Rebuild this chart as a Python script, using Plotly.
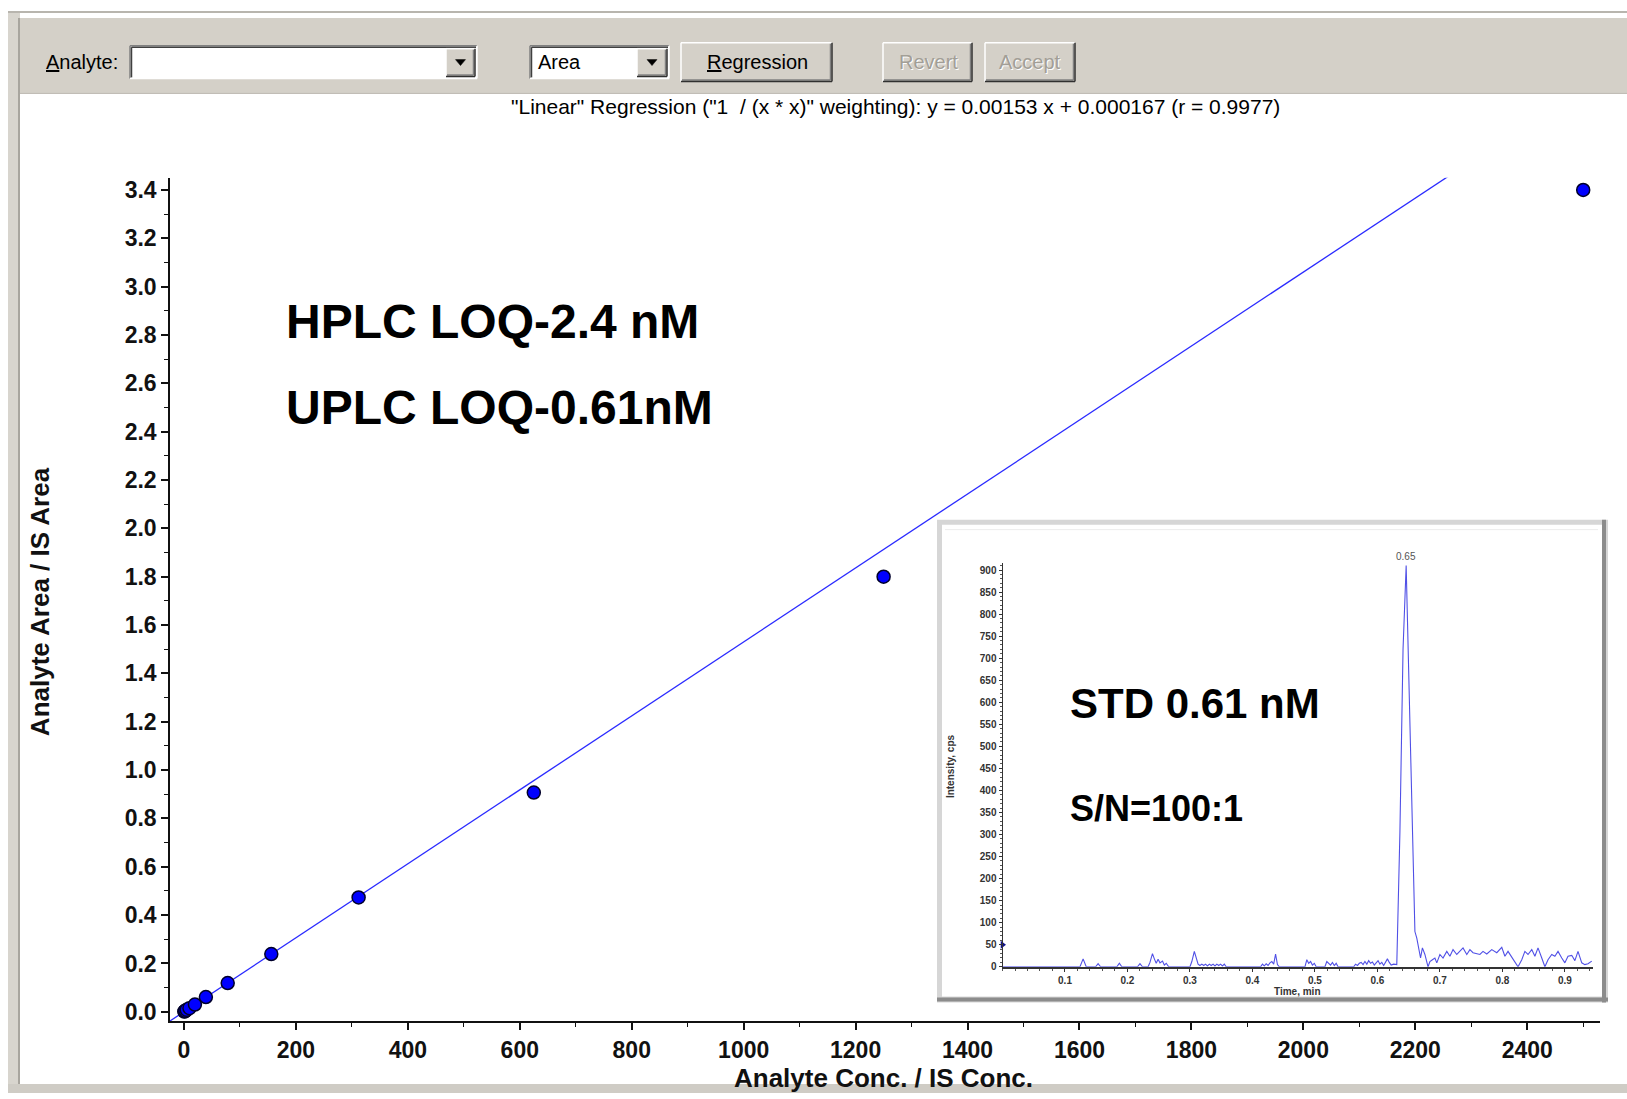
import plotly.graph_objects as go

W, H = 1627, 1099

# Calibration standards (analyte/IS concentration ratio vs analyte/IS area ratio)
conc = [0.61, 1.22, 2.44, 4.88, 9.77, 19.5, 39.1, 78.1, 156, 312, 625, 1250, 2500]
area_ratio = [0.001, 0.002, 0.004, 0.008, 0.015, 0.030, 0.061, 0.119, 0.239, 0.473, 0.907, 1.80, 3.40]

# Weighted linear fit reported by the software
slope, intercept, r_value = 0.00153, 0.000167, 0.9977

x_ticks = [0, 200, 400, 600, 800, 1000, 1200, 1400, 1600, 1800, 2000, 2200, 2400]
y_ticks = [0.0, 0.2, 0.4, 0.6, 0.8, 1.0, 1.2, 1.4, 1.6, 1.8, 2.0, 2.2, 2.4, 2.6, 2.8, 3.0, 3.2, 3.4]
x_range = [-25, 2530]
y_range = [-0.04, 3.45]

# Chromatogram of the 0.61 nM standard
chrom_time = [
    0.000, 0.124, 0.129, 0.134, 0.149, 0.153, 0.157, 0.183, 0.187, 0.191,
    0.216, 0.220, 0.224, 0.233, 0.236, 0.240, 0.243, 0.246, 0.249, 0.252,
    0.256, 0.259, 0.262, 0.266, 0.300, 0.303, 0.307, 0.310, 0.313, 0.316,
    0.319, 0.322, 0.325, 0.328, 0.331, 0.334, 0.337, 0.340, 0.343, 0.346,
    0.349, 0.352, 0.355, 0.358, 0.413, 0.416, 0.419, 0.422, 0.425, 0.428,
    0.431, 0.434, 0.437, 0.440, 0.443, 0.484, 0.487, 0.490, 0.493, 0.496,
    0.499, 0.502, 0.516, 0.519, 0.522, 0.525, 0.528, 0.531, 0.534, 0.537,
    0.562, 0.565, 0.568, 0.571, 0.574, 0.577, 0.580, 0.583, 0.586, 0.589,
    0.592, 0.595, 0.598, 0.601, 0.604, 0.607, 0.610, 0.613, 0.616, 0.619,
    0.622, 0.626, 0.631, 0.636, 0.641, 0.646, 0.649, 0.655, 0.660, 0.663,
    0.666, 0.669, 0.672, 0.676, 0.681, 0.684, 0.688, 0.692, 0.695, 0.700,
    0.705, 0.711, 0.716, 0.721, 0.727, 0.732, 0.737, 0.743, 0.748, 0.753,
    0.759, 0.764, 0.769, 0.775, 0.783, 0.791, 0.799, 0.804, 0.809, 0.817,
    0.825, 0.831, 0.836, 0.841, 0.847, 0.852, 0.857, 0.863, 0.868, 0.873,
    0.879, 0.884, 0.889, 0.895, 0.900, 0.905, 0.911, 0.916, 0.921, 0.927,
    0.932, 0.937, 0.943,
]
chrom_cps = [
    0, 0, 18, 0, 0, 7, 0, 0, 8, 0,
    0, 7, 0, 0, 10, 30, 18, 8, 17, 9,
    13, 4, 8, 0, 0, 12, 35, 18, 6, 3,
    6, 3, 6, 2, 6, 3, 6, 2, 6, 3,
    6, 2, 6, 0, 0, 6, 2, 7, 3, 9,
    12, 6, 29, 5, 0, 0, 16, 8, 12, 4,
    8, 0, 0, 12, 9, 4, 10, 3, 8, 0,
    0, 6, 3, 8, 10, 5, 12, 6, 14, 8,
    11, 4, 9, 14, 6, 10, 3, 12, 18, 10,
    4, 6, 5, 306, 720, 910, 720, 344, 80, 65,
    43, 20, 43, 28, 0, 12, 16, 20, 9, 28,
    20, 35, 24, 39, 28, 35, 43, 28, 39, 32,
    29, 28, 35, 29, 39, 32, 44, 24, 35, 16,
    0, 16, 35, 28, 39, 24, 43, 20, 0, 16,
    28, 24, 35, 20, 9, 24, 26, 14, 35, 9,
    5, 7, 13,
]
inset_y_ticks = [0, 50, 100, 150, 200, 250, 300, 350, 400, 450,
                 500, 550, 600, 650, 700, 750, 800, 850, 900]
inset_x_ticks = [0.1, 0.2, 0.3, 0.4, 0.5, 0.6, 0.7, 0.8, 0.9]
threshold_cps = 50


def X(px):
    return px / W


def Y(py):
    return 1 - py / H


shapes = []


def box(x0, y0, x1, y1, fill, line=None, lw=0):
    shapes.append(dict(type="rect", xref="paper", yref="paper",
                       x0=X(x0), x1=X(x1), y0=Y(y1), y1=Y(y0),
                       fillcolor=fill, layer="below",
                       line=dict(color=line or fill, width=lw)))


def seg(x0, y0, x1, y1, color, lw=1.5):
    shapes.append(dict(type="line", xref="paper", yref="paper",
                       x0=X(x0), x1=X(x1), y0=Y(y0), y1=Y(y1),
                       layer="below", line=dict(color=color, width=lw)))


FACE = "#d4d0c8"


def raised(x0, y0, x1, y1):
    box(x0, y0, x1, y1, FACE)
    seg(x0, y0, x1, y0, "#ffffff")
    seg(x0, y0, x0, y1, "#ffffff")
    seg(x0 + 1, y1 - 1.5, x1 - 1.5, y1 - 1.5, "#808080")
    seg(x1 - 1.5, y0 + 1, x1 - 1.5, y1 - 1.5, "#808080")
    seg(x0, y1, x1, y1, "#303030")
    seg(x1, y0, x1, y1, "#303030")


def sunken(x0, y0, x1, y1, fill="#ffffff"):
    box(x0, y0, x1, y1, fill)
    seg(x0, y0, x1, y0, "#808080")
    seg(x0, y0, x0, y1, "#808080")
    seg(x0 + 1.5, y0 + 1.5, x1 - 1, y0 + 1.5, "#404040")
    seg(x0 + 1.5, y0 + 1.5, x0 + 1.5, y1 - 1, "#404040")
    seg(x0, y1, x1, y1, "#ffffff")
    seg(x1, y0, x1, y1, "#ffffff")


def arrow_button(x0, y0, x1, y1):
    raised(x0, y0, x1, y1)
    cx, cy = (x0 + x1) / 2, (y0 + y1) / 2
    shapes.append(dict(type="path", xref="paper", yref="paper", layer="below",
                       path=f"M {X(cx-5)},{Y(cy-3)} L {X(cx+5)},{Y(cy-3)} L {X(cx)},{Y(cy+3)} Z",
                       fillcolor="#000000", line=dict(color="#000000", width=0.5)))


# window frame and toolbar
box(8, 10, W, H, "#ffffff")
box(8, 10, 20, H, "#d8d5ce")
seg(19, 17, 19, 1090, "#a8a59e", 2)
seg(8, 11, W, 11, "#b8b5ae", 2)
box(20, 17, W, 93, FACE)
seg(20, 93, W, 93, "#bdb9b1", 1)
box(8, 1090, W, H, "#cfccc5")

sunken(130, 45, 477, 78)
arrow_button(446, 48, 475, 76)
sunken(530, 45, 669, 78)
arrow_button(637, 48, 667, 76)
raised(681, 42, 832, 81)
raised(883, 42, 972, 81)
raised(985, 42, 1075, 81)

# inset frame
box(937, 522, 1608, 1008, "#d6d6d6")
box(942, 527, 1602, 1002, "#ffffff")
seg(1604, 522, 1604, 1008, "#8c8c8c", 4)
seg(937, 1005, 1608, 1005, "#8c8c8c", 4)
seg(945, 532, 1598, 532, "#ececec", 1)

fig = go.Figure()

# regression line over the full axis range
fit_x = [x_range[0], x_range[1]]
fit_y = [slope * v + intercept for v in fit_x]
fig.add_trace(go.Scatter(x=fit_x, y=fit_y, mode="lines",
                         line=dict(color="#2a2aff", width=1.3),
                         hoverinfo="skip", showlegend=False))
fig.add_trace(go.Scatter(x=conc, y=area_ratio, mode="markers", cliponaxis=False,
                         marker=dict(size=13, color="#0000ff",
                                     line=dict(color="#00002a", width=1.5)),
                         showlegend=False))

# chromatogram inset
fig.add_trace(go.Scatter(x=chrom_time, y=chrom_cps, mode="lines",
                         line=dict(color="#5050e6", width=1.1),
                         xaxis="x2", yaxis="y2", showlegend=False))
fig.add_trace(go.Scatter(x=[0], y=[threshold_cps], mode="markers", cliponaxis=False,
                         marker=dict(symbol="triangle-right", size=7, color="#10108a"),
                         xaxis="x2", yaxis="y2", showlegend=False))

apex_i = chrom_cps.index(max(chrom_cps))
apex_t, apex_v = chrom_time[apex_i], chrom_cps[apex_i]

bold_tick = dict(family="Arial", size=23, color="#111111", weight="bold")
small_tick = dict(family="Arial", size=10, color="#333333", weight="bold")

fig.update_layout(
    width=W, height=H,
    margin=dict(l=0, r=0, t=0, b=0),
    paper_bgcolor="#ffffff",
    plot_bgcolor="rgba(0,0,0,0)",
    shapes=shapes,
    xaxis=dict(domain=[X(170), X(1600)], range=x_range, anchor="y",
               tickvals=x_ticks, ticks="outside", ticklen=7, tickwidth=1.5,
               tickcolor="#111", showline=True, linecolor="#111", linewidth=1.5,
               showgrid=False, zeroline=False, tickfont=bold_tick,
               minor=dict(dtick=100, tick0=0, ticks="outside", ticklen=4,
                          tickcolor="#111", tickwidth=1.2, showgrid=False)),
    yaxis=dict(domain=[Y(1027), Y(178)], range=y_range, anchor="x",
               tickvals=y_ticks, tickformat=".1f", ticks="outside", ticklen=7,
               tickwidth=1.5, tickcolor="#111", showline=True, linecolor="#111",
               linewidth=1.5, showgrid=False, zeroline=False, tickfont=bold_tick,
               minor=dict(dtick=0.1, tick0=0, ticks="outside", ticklen=4,
                          tickcolor="#111", tickwidth=1.2, showgrid=False)),
    xaxis2=dict(domain=[X(1002.5), X(1593)], range=[0, 0.945], anchor="y2",
                tickvals=inset_x_ticks, ticks="outside", ticklen=3, tickwidth=1,
                tickcolor="#333", showline=True, linecolor="#333", linewidth=1.5,
                showgrid=False, zeroline=False, tickfont=small_tick,
                minor=dict(dtick=0.02, tick0=0, ticks="outside", ticklen=2,
                           tickcolor="#555", showgrid=False)),
    yaxis2=dict(domain=[Y(972), Y(566)], range=[0, 915], anchor="x2",
                tickvals=inset_y_ticks, ticks="outside", ticklen=3, tickwidth=1,
                tickcolor="#333", showline=True, linecolor="#333", linewidth=1,
                showgrid=False, zeroline=False, tickfont=small_tick,
                minor=dict(dtick=10, tick0=0, ticks="outside", ticklen=2,
                           tickcolor="#555", showgrid=False)),
)


def label(px, py, text, size, color="#000000", xanchor="center", bold=False,
          angle=0, family="Arial"):
    fig.add_annotation(xref="paper", yref="paper", x=X(px), y=Y(py), text=text,
                       showarrow=False, xanchor=xanchor, yanchor="middle",
                       textangle=angle,
                       font=dict(family=family, size=size, color=color,
                                 weight="bold" if bold else "normal"))


# toolbar texts
label(44, 61, "<u>A</u>nalyte:", 20, xanchor="left")
label(536, 61, "Area", 20, xanchor="left")
label(757, 61, "<u>R</u>egression", 20)
for cx, txt in [(928, "Revert"), (1030, "Accept")]:
    label(cx + 1, 62, txt, 20, color="#ffffff")
    label(cx, 61, txt, 20, color="#a29e96")

label(895, 106,
      f'"Linear" Regression ("1  / (x * x)" weighting): y = {slope} x + {intercept} (r = {r_value})',
      21)

# axis titles
label(883, 1084, "Analyte Conc. / IS Conc.", 26, bold=True, color="#111")
label(40, 605, "Analyte Area / IS Area", 26, bold=True, color="#111", angle=-90)

# method annotations
label(284, 323, "HPLC LOQ-2.4 nM", 48, bold=True, xanchor="left")
label(284, 409, "UPLC LOQ-0.61nM", 48, bold=True, xanchor="left")
label(1068, 707, "STD 0.61 nM", 42, bold=True, xanchor="left")
label(1068, 813, "S/N=100:1", 36, bold=True, xanchor="left")

# inset titles and apex label
label(950, 770, "Intensity, cps", 10, bold=True, color="#333", angle=-90)
label(1297, 997, "Time, min", 10, bold=True, color="#333")
fig.add_annotation(xref="x2", yref="y2", x=apex_t, y=apex_v, text=f"{apex_t:.2f}",
                   showarrow=False, yanchor="bottom", yshift=2,
                   font=dict(family="Arial", size=10, color="#555555"))

fig.write_html("out.html")
